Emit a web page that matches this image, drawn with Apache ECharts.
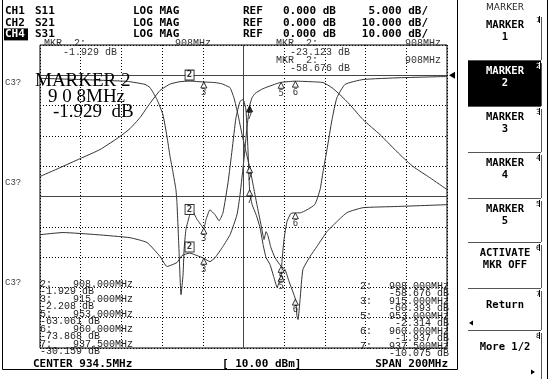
<!DOCTYPE html>
<html>
<head>
<meta charset="utf-8">
<script src="https://cdn.jsdelivr.net/npm/echarts@6/dist/echarts.min.js"></script>
<style>
  html, body { margin: 0; padding: 0; background: #fff; }
  #chart { width: 549px; height: 379px; }
</style>
</head>
<body>
<div id="chart"></div>
<script>
// CH1 S11, 5 dB/div
const s11Freq = [834.5, 854.2, 877.3, 886.1, 888.5, 892.0, 894.9, 896.9, 898.4, 899.9, 901.3, 901.8, 902.8, 903.8, 904.8, 905.3, 906.2, 908, 909.2, 911.7, 915, 916.1, 918.0, 920.5, 922.5, 924.4, 926.9, 928.9, 930.8, 932.8, 934.3, 935.7, 936.7, 937.5, 938.7, 940.7, 942.6, 944.1, 945.6, 947.5, 949.5, 951.0, 953, 953.4, 954.4, 955.9, 957.8, 960, 962.3, 965.7, 969.6, 972.1, 973.6, 975.5, 978.0, 980.4, 984.4, 993.2, 1011.4, 1034.5];
const s11Db = [-0.5, -0.7, -1.0, -1.5, -2.0, -4.0, -6.5, -10.1, -13.4, -16.1, -18.9, -21.0, -28.8, -36.2, -32.9, -28.8, -25.5, -23.1, -22.3, -23.8, -25.2, -23.8, -22.2, -23.0, -24.0, -22.7, -17.7, -12.3, -7.0, -4.3, -4.0, -5.7, -12.3, -18.9, -21.3, -23.0, -25.1, -27.9, -30.1, -31.2, -33.4, -35.0, -33.0, -30.7, -27.1, -24.1, -22.8, -22.7, -22.7, -22.2, -21.3, -18.9, -15.9, -12.3, -7.3, -3.7, -1.5, -0.7, -0.4, -0.2];

// CH2 S21, 10 dB/div
const s21Freq = [834.5, 844.3, 854.2, 864.0, 873.8, 878.7, 883.6, 888.5, 893.5, 898.4, 903.3, 908, 915, 920.5, 923.9, 925.9, 927.9, 929.8, 931.8, 933.8, 935.7, 937.5, 939.2, 941.1, 943.1, 944.6, 945.6, 946.5, 948.0, 950.0, 953, 954.9, 956.9, 960, 960.8, 961.3, 962.3, 963.7, 967.2, 970.6, 975.5, 980.4, 985.4, 993.2, 1009.9, 1034.5];
const s21Db = [-33.4, -30.5, -27.5, -24.5, -20.2, -17.6, -14.0, -9.3, -5.0, -2.9, -2.1, -1.929, -2.208, -2.4, -2.8, -3.4, -4.1, -7.4, -13.0, -19.6, -25.2, -30.159, -36.1, -42.7, -49.3, -54.2, -51.6, -52.9, -56.9, -60.2, -63.061, -64.1, -68.1, -73.868, -79.6, -80.6, -74.0, -64.1, -59.8, -56.5, -51.6, -48.3, -45.3, -43.7, -43.3, -42.7];

// CH4 S31, 10 dB/div
const s31Freq = [834.5, 845.8, 862.5, 878.7, 887.1, 893.5, 896.9, 901.8, 904.3, 908, 911.7, 915, 918.0, 920.5, 924.4, 927.9, 931.3, 932.8, 934.7, 936.2, 937.5, 938.7, 940.2, 944.1, 951.0, 953, 960, 967.2, 973.6, 978.0, 981.9, 986.8, 993.2, 1001.6, 1011.4, 1017.8, 1026.1, 1034.5];
const s31Db = [-52.6, -51.9, -52.6, -53.6, -55.2, -59.8, -63.1, -61.8, -59.5, -58.676, -59.5, -60.393, -61.5, -60.2, -56.5, -52.6, -46.0, -39.4, -27.8, -17.3, -10.075, -7.4, -6.0, -4.4, -2.7, -2.314, -1.937, -2.1, -2.4, -4.1, -6.4, -9.7, -14.6, -19.6, -26.2, -30.1, -33.8, -37.7];

// markers
const markerIds = ['2', '3', '5', '6', '7'];
const markerFreq = [908, 915, 953, 960, 937.5];
const s11Mkr = [-23.123, -25.2, -33.0, -22.7, -18.9];
const s21Mkr = [-1.929, -2.208, -63.061, -73.868, -30.159];
const s31Mkr = [-58.676, -60.393, -2.314, -1.937, -10.075];

const softkeys = [['MARKER', '1'], ['MARKER', '2'], ['MARKER', '3'], ['MARKER', '4'], ['MARKER', '5'], ['ACTIVATE', 'MKR OFF'], ['Return'], ['More 1/2']];

const HDR = 'bold 11px "DejaVu Sans Mono"';
const KEY = 'bold 10.5px "DejaVu Sans Mono"';
const SMALL = '10px "Liberation Mono"';
const BIG = '19px "Liberation Serif"';

const chart = echarts.init(document.getElementById('chart'));

function zip(xs, ys) {
  return xs.map((x, i) => [x, ys[i]]);
}

function markerSeries(vals, yIdx, filled) {
  const data = markerFreq.map((f, i) => {
    const id = markerIds[i];
    if (id === '2') {
      return {
        value: [f, vals[i]],
        symbol: 'rect',
        symbolSize: [9, 10],
        symbolOffset: [0, -6],
        itemStyle: { color: '#fff', borderColor: '#000', borderWidth: 1 },
        label: { show: true, position: 'inside', formatter: id, fontSize: 9, fontWeight: 'bold', color: '#000', fontFamily: 'DejaVu Sans Mono' }
      };
    }
    return {
      value: [f, vals[i]],
      symbol: 'triangle',
      symbolSize: [6, 6],
      symbolOffset: [0, 3],
      itemStyle: { color: filled === id ? '#000' : '#fff', borderColor: '#000', borderWidth: 1 },
      label: { show: true, position: 'bottom', distance: 0, formatter: id, fontSize: 9, color: '#000', fontFamily: 'DejaVu Sans Mono' }
    };
  });
  return { type: 'scatter', xAxisIndex: 0, yAxisIndex: yIdx, data: data, z: 5, silent: true };
}

const traceStyle = { color: '#333', width: 1 };

const g = [];
function T(x, y, text, font, extra) {
  g.push({ type: 'text', x: x, y: y, z: 10, style: Object.assign({ text: text, font: font, fill: '#000', verticalAlign: 'middle', align: 'left' }, extra || {}) });
}
function L(x1, y1, x2, y2, color) {
  g.push({ type: 'line', z: 10, shape: { x1: x1, y1: y1, x2: x2, y2: y2 }, style: { stroke: color || '#000', lineWidth: 1 } });
}

// header
const rows = [['CH1', 'S11', '5.000 dB/'], ['CH2', 'S21', '10.000 dB/'], ['CH4', 'S31', '10.000 dB/']];
rows.forEach((r, i) => {
  const y = 11 + i * 11.7;
  if (i === 2) {
    g.push({ type: 'rect', z: 9, shape: { x: 4, y: y - 6, width: 24, height: 12 }, style: { fill: '#000' } });
    T(5, y, r[0], HDR, { fill: '#fff' });
  } else {
    T(5, y, r[0], HDR);
  }
  T(35, y, r[1], HDR);
  T(133, y, 'LOG MAG', HDR);
  T(243, y, 'REF', HDR);
  T(283, y, '0.000 dB', HDR);
  T(428, y, r[2], HDR, { align: 'right' });
});

// small marker readouts at top
T(44, 43, 'MKR  2:', SMALL, { fill: '#333' });
T(63, 52, s21Mkr[0].toFixed(3) + ' dB', SMALL, { fill: '#333' });
T(175, 43, markerFreq[0] + 'MHz', SMALL, { fill: '#333' });
T(276, 43, 'MKR  2:', SMALL, { fill: '#333' });
T(290, 52, s11Mkr[0].toFixed(3) + ' dB', SMALL, { fill: '#333' });
T(276, 60, 'MKR  2:', SMALL, { fill: '#333' });
T(290, 68, s31Mkr[0].toFixed(3) + ' dB', SMALL, { fill: '#333' });
T(405, 43, markerFreq[0] + 'MHz', SMALL, { fill: '#333' });
T(405, 60, markerFreq[0] + 'MHz', SMALL, { fill: '#333' });

// big active marker text
T(35, 81, 'MARKER 2', BIG);
T(48, 97, '9 0 8MHz', BIG);
T(53, 112, s21Mkr[0].toFixed(3) + '  dB', BIG);

[83, 183, 283].forEach(y => T(5, y, 'C3?', '9px "Liberation Mono"', { fill: '#444' }));

// marker lists at bottom
markerIds.forEach((id, i) => {
  const y = 284 + i * 15;
  T(40, y, id + ':', SMALL, { fill: '#222' });
  T(133, y, markerFreq[i].toFixed(3) + 'MHz', SMALL, { fill: '#222', align: 'right' });
  T(40, y + 7.5, s21Mkr[i].toFixed(3) + ' dB', SMALL, { fill: '#222' });
  T(360, y + 2, id + ':', SMALL, { fill: '#222' });
  T(449, y + 2, markerFreq[i].toFixed(3) + 'MHz', SMALL, { fill: '#222', align: 'right' });
  T(449, y + 9.5, s31Mkr[i].toFixed(3) + ' dB', SMALL, { fill: '#222', align: 'right' });
});

T(33, 364, 'CENTER 934.5MHz', HDR);
T(222, 364, '[ 10.00 dBm]', HDR);
T(448, 364, 'SPAN 200MHz', HDR, { align: 'right' });

// display frame
L(2.5, 0, 2.5, 369.5);
L(2.5, 369.5, 457.5, 369.5);
L(457.5, 0, 457.5, 369.5);
L(547.5, 0, 547.5, 379);

// softkey panel
T(505, 8, 'MARKER', '9px "DejaVu Sans"', { align: 'center', fill: '#222' });
const keyTops = [14, 60, 106, 152, 198, 242, 288, 330, 379];
softkeys.forEach((k, i) => {
  const t = keyTops[i], b = keyTops[i + 1];
  const active = i === 1;
  if (active) {
    g.push({ type: 'rect', z: 9, shape: { x: 468, y: t, width: 73, height: b - t }, style: { fill: '#000' } });
  }
  if (i < softkeys.length - 1) L(468, b + 0.5, 541, b + 0.5, '#555');
  L(541.5, t + 3, 541.5, b, '#555');
  const col = active ? '#fff' : '#000';
  if (k.length === 2) {
    T(505, t + 11, k[0], KEY, { align: 'center', fill: col });
    T(505, t + 23, k[1], KEY, { align: 'center', fill: col });
  } else {
    T(505, t + 17, k[0], KEY, { align: 'center', fill: col });
  }
  T(536, t + 6, String(i + 1), '7px "DejaVu Sans"', { fill: col });
  L(539.5, t + 2, 539.5, t + 9, col);
});
g.push({ type: 'polygon', z: 10, shape: { points: [[469, 323], [473, 320.5], [473, 325.5]] }, style: { fill: '#000' } });
g.push({ type: 'polygon', z: 10, shape: { points: [[535, 372], [531, 369.5], [531, 374.5]] }, style: { fill: '#000' } });

const dotted = { show: true, lineStyle: { color: '#000', type: [1, 2], width: 1 } };

const option = {
  backgroundColor: '#fff',
  animation: false,
  grid: { left: 40, top: 45, width: 407, height: 303, show: true, borderColor: '#000', borderWidth: 1, backgroundColor: 'transparent' },
  xAxis: [
    { type: 'value', min: 834.5, max: 1034.5, axisLine: { show: false }, axisTick: { show: false }, axisLabel: { show: false }, splitLine: { show: false } },
    { type: 'value', min: -100, max: 100, interval: 20, axisLine: { show: false }, axisTick: { show: false }, axisLabel: { show: false }, splitLine: dotted }
  ],
  yAxis: [
    { type: 'value', min: -90, max: 10, interval: 10, axisLine: { show: false }, axisTick: { show: false }, axisLabel: { show: false }, splitLine: dotted },
    { type: 'value', min: -45, max: 5, interval: 5, axisLine: { show: false }, axisTick: { show: false }, axisLabel: { show: false }, splitLine: { show: false } }
  ],
  series: [
    {
      name: 'S21', type: 'line', xAxisIndex: 0, yAxisIndex: 0, data: zip(s21Freq, s21Db),
      showSymbol: false, smooth: 0.15, lineStyle: traceStyle, silent: true,
      markLine: {
        silent: true, symbol: 'none', label: { show: false },
        lineStyle: { color: '#444', type: 'solid', width: 1 },
        data: [{ xAxis: 934.5 }, { yAxis: -40 }, { yAxis: 0 }]
      },
      markPoint: {
        silent: true,
        data: [{ coord: [1034.5, 0], symbol: 'triangle', symbolSize: [7, 6], symbolRotate: 90, symbolOffset: [5, 0], itemStyle: { color: '#000' }, label: { show: false } }]
      }
    },
    { name: 'S31', type: 'line', xAxisIndex: 0, yAxisIndex: 0, data: zip(s31Freq, s31Db), showSymbol: false, smooth: 0.15, lineStyle: traceStyle, silent: true },
    { name: 'S11', type: 'line', xAxisIndex: 0, yAxisIndex: 1, data: zip(s11Freq, s11Db), showSymbol: false, smooth: 0.15, lineStyle: traceStyle, silent: true },
    markerSeries(s21Mkr, 0, null),
    markerSeries(s31Mkr, 0, '7'),
    markerSeries(s11Mkr, 1, null)
  ],
  graphic: g
};

chart.setOption(option);
</script>
</body>
</html>
